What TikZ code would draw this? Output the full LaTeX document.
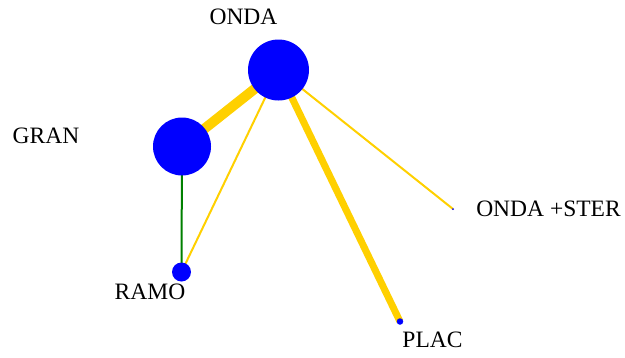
\documentclass[tikz,border=0pt]{standalone}
\usepackage{fontspec}
\setmainfont{Liberation Serif}
\begin{document}
\begin{tikzpicture}[x=1pt,y=-1pt,
  vert/.style={circle,fill=blue,draw=none,inner sep=0pt},
  lbl/.style={font=\fontsize{23.5}{27}\selectfont,inner sep=0pt,anchor=center},
  yel/.style={draw={rgb,255:red,255;green,208;blue,0}},
  grn/.style={draw={rgb,255:red,0;green,128;blue,0},line width=2pt}]
\useasboundingbox (0,0) rectangle (625,357);
% vertices (positions)
\coordinate (pONDA) at (278.5,70);
\coordinate (pGRAN) at (182,146.5);
\coordinate (pRAMO) at (181.5,272);
\coordinate (pPLAC) at (400,321.5);
\coordinate (pSTER) at (453,209);
% edges
\draw[yel,line width=10pt] (pONDA) -- (pGRAN);
\draw[yel,line width=2pt] (pONDA) -- (pRAMO);
\draw[yel,line width=7pt] (pONDA) -- (pPLAC);
\draw[yel,line width=2pt] (pONDA) -- (pSTER);
\draw[grn] (pGRAN) -- (pRAMO);
% nodes
\node[vert,minimum size=61pt] (ONDA) at (pONDA) {};
\node[vert,minimum size=58pt] (GRAN) at (pGRAN) {};
\node[vert,minimum size=19pt] (RAMO) at (pRAMO) {};
\node[vert,minimum size=6.5pt] (PLAC) at (pPLAC) {};
\node[vert,minimum size=2pt] (STER) at (pSTER) {};
% labels
\node[lbl] (lONDA) at (243.5,17) {ONDA};
\node[lbl] (lGRAN) at (46,136) {GRAN};
\node[lbl] (lRAMO) at (150,292) {RAMO};
\node[lbl] (lPLAC) at (432.5,340) {PLAC};
\node[lbl] (lSTER) at (548.5,208.5) {ONDA +STER};
\end{tikzpicture}
\end{document}
